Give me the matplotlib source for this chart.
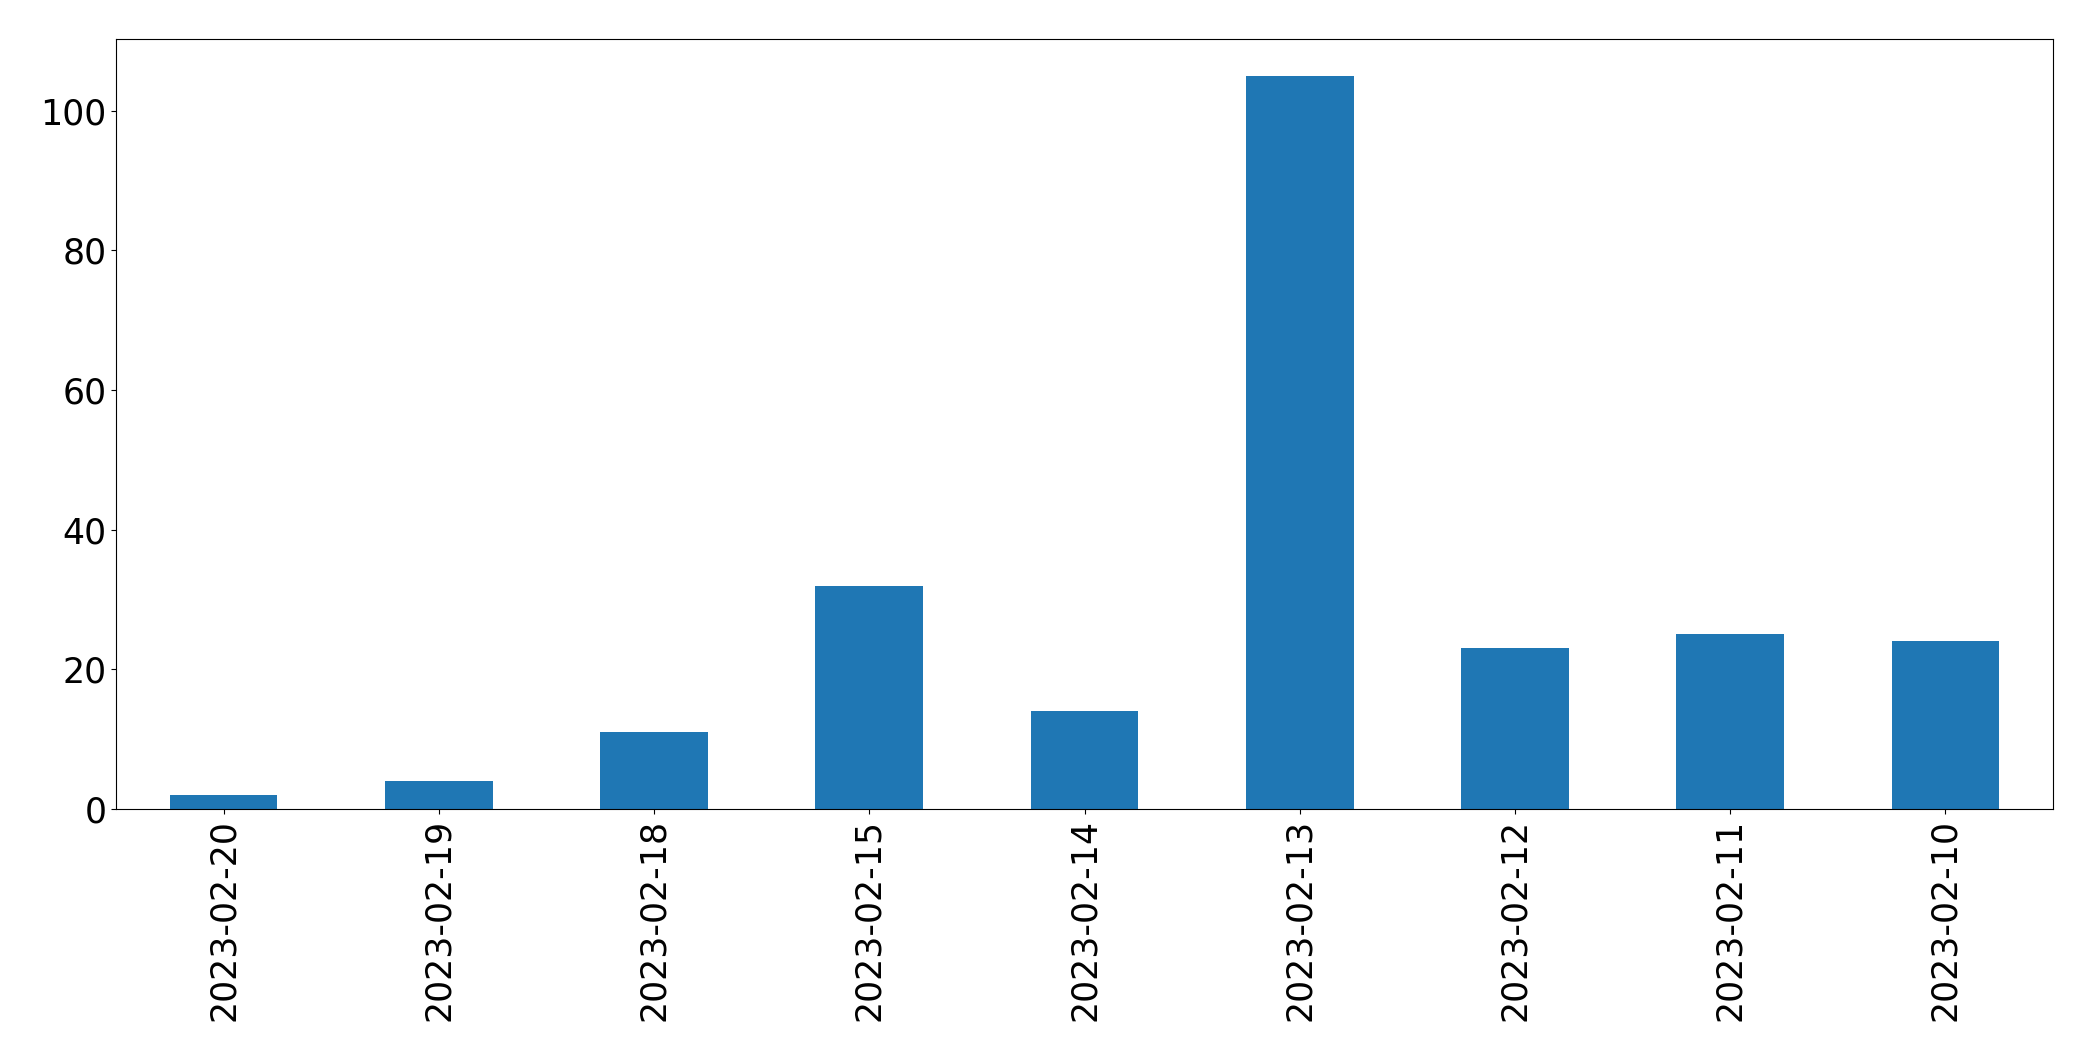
import matplotlib
matplotlib.use('Agg')
import matplotlib.pyplot as plt
import numpy as np

dates = ['2023-02-20', '2023-02-19', '2023-02-18', '2023-02-15', '2023-02-14',
         '2023-02-13', '2023-02-12', '2023-02-11', '2023-02-10']
counts = [2, 4, 11, 32, 14, 105, 23, 25, 24]

W, H = 2093, 1061
fig = plt.figure(figsize=(W/100, H/100), dpi=100)
ax = fig.add_axes([116/W, 1 - 809/H, (2053-116)/W, (809-39)/H])

x = np.arange(len(dates))
ax.bar(x, counts, width=0.5, color='#1f77b4')
ax.set_xticks(x)
ax.set_xticklabels(dates, rotation=90, fontsize=25)
ax.tick_params(axis='y', labelsize=25)
ax.set_xlim(-0.5, len(dates) - 0.5)
ax.set_ylim(0, 110.25)

plt.savefig('out.png', dpi=100)
